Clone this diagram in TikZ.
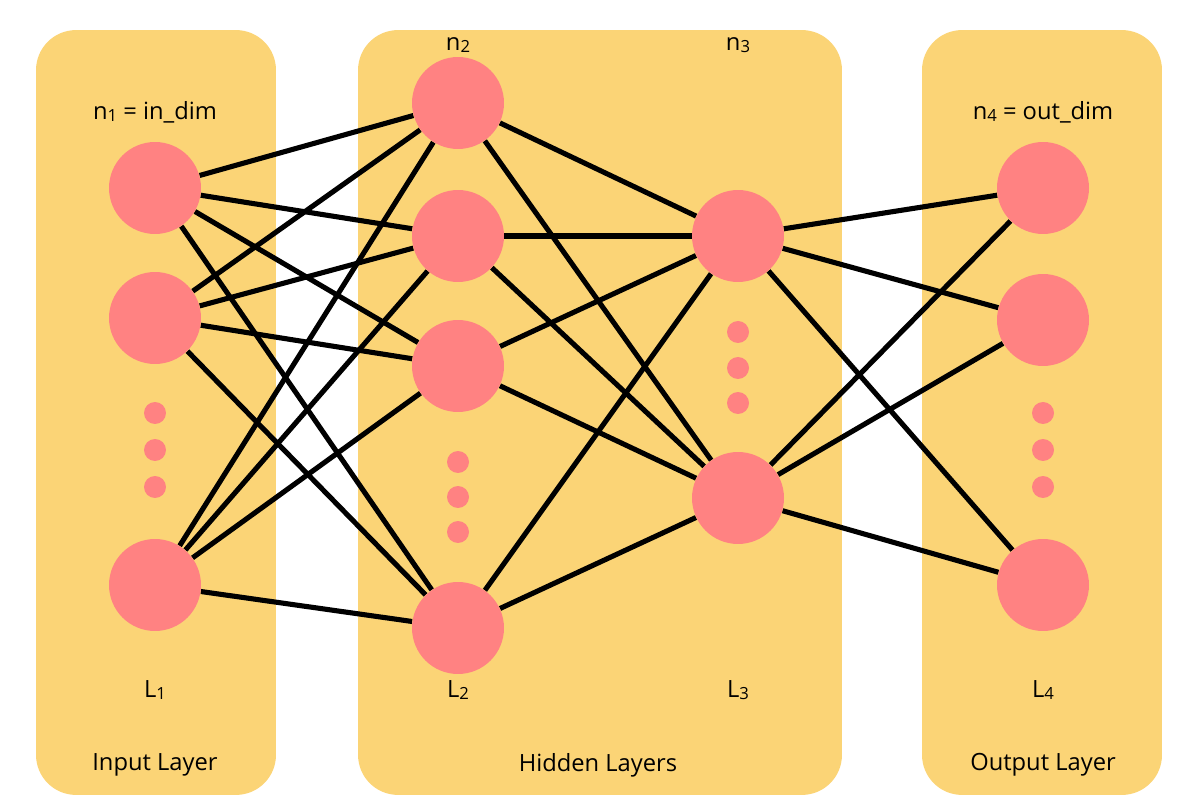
\documentclass[tikz,border=0pt]{standalone}
\usepackage{fontspec}
\setmainfont{Open Sans}
\usetikzlibrary{backgrounds}
\definecolor{panelyellow}{RGB}{251,212,118}
\definecolor{neuronred}{RGB}{255,130,130}
\pgfdeclarelayer{panel}
\pgfdeclarelayer{wires}
\pgfsetlayers{panel,wires,main}
\newcommand{\lsub}[1]{\raisebox{-0.15ex}{\fontsize{9.5}{10}\selectfont #1}}
\tikzset{%
  % Specifications for style of nodes:
        layerbox/.style = {rectangle, rounded corners=0.8cm, fill=panelyellow,
                           inner sep=0pt},
          neuron/.style = {circle, fill=neuronred, minimum size=1.84cm,
                           inner sep=0pt},
         ellipsis/.style = {circle, fill=neuronred, minimum size=0.44cm,
                           inner sep=0pt},
           label/.style = {font=\fontsize{13.5}{16}\selectfont, inner sep=0pt},
            wire/.style = {line width=2.9pt, black},
}
\begin{document}
\begin{tikzpicture}[x=0.02cm, y=-0.02cm]
  \useasboundingbox (0,0) rectangle (1200,810);
  % Layer panels
  \begin{pgfonlayer}{panel}
  \node (inpanel)	[layerbox, minimum width=4.8cm, minimum height=15.3cm] at (156,412.5) {};
  \node (hidpanel)	[layerbox, minimum width=9.68cm, minimum height=15.3cm] at (600,412.5) {};
  \node (outpanel)	[layerbox, minimum width=4.8cm, minimum height=15.3cm] at (1042,412.5) {};
  \end{pgfonlayer}

  % Specification of nodes (position, etc.)
  \node (in1)		[neuron] at (155,188) {};
  \node (in2)		[neuron] at (155,318) {};
  \node (in3)		[neuron] at (155,585) {};
  \node (hA1)		[neuron] at (458,103) {};
  \node (hA2)		[neuron] at (458,236) {};
  \node (hA3)		[neuron] at (458,366) {};
  \node (hA4)		[neuron] at (458,628) {};
  \node (hB1)		[neuron] at (738,236) {};
  \node (hB2)		[neuron] at (738,498) {};
  \node (out1)		[neuron] at (1043,188) {};
  \node (out2)		[neuron] at (1043,320) {};
  \node (out3)		[neuron] at (1043,585) {};

  \node (indot1)	[ellipsis] at (155,413) {};
  \node (indot2)	[ellipsis] at (155,450) {};
  \node (indot3)	[ellipsis] at (155,487) {};
  \node (hAdot1)	[ellipsis] at (458,462) {};
  \node (hAdot2)	[ellipsis] at (458,497) {};
  \node (hAdot3)	[ellipsis] at (458,532) {};
  \node (hBdot1)	[ellipsis] at (738,332) {};
  \node (hBdot2)	[ellipsis] at (738,368) {};
  \node (hBdot3)	[ellipsis] at (738,403) {};
  \node (outdot1)	[ellipsis] at (1043,413) {};
  \node (outdot2)	[ellipsis] at (1043,450) {};
  \node (outdot3)	[ellipsis] at (1043,487) {};

  % Texts
  \node (n1)		[label] at (155,112) {n\lsub{1} = in\_dim};
  \node (n2)		[label] at (458,45) {n\lsub{2}};
  \node (n3)		[label] at (738,45) {n\lsub{3}};
  \node (n4)		[label] at (1043,112) {n\lsub{4} = out\_dim};
  \node (L1)		[label] at (155,690) {L\lsub{1}};
  \node (L2)		[label] at (458,690) {L\lsub{2}};
  \node (L3)		[label] at (738,690) {L\lsub{3}};
  \node (L4)		[label] at (1043,690) {L\lsub{4}};
  \node (inname)	[label] at (155,765) {Input Layer};
  \node (hidname)	[label] at (598,765) {Hidden Layers};
  \node (outname)	[label] at (1043,765) {Output Layer};

  % Connections
  \begin{pgfonlayer}{wires}
  \draw[wire]		(in1) -- (hA1);
  \draw[wire]		(in1) -- (hA2);
  \draw[wire]		(in1) -- (hA3);
  \draw[wire]		(in1) -- (hA4);
  \draw[wire]		(in2) -- (hA1);
  \draw[wire]		(in2) -- (hA2);
  \draw[wire]		(in2) -- (hA3);
  \draw[wire]		(in2) -- (hA4);
  \draw[wire]		(in3) -- (hA1);
  \draw[wire]		(in3) -- (hA2);
  \draw[wire]		(in3) -- (hA3);
  \draw[wire]		(in3) -- (hA4);

  \draw[wire]		(hA1) -- (hB1);
  \draw[wire]		(hA1) -- (hB2);
  \draw[wire]		(hA2) -- (hB1);
  \draw[wire]		(hA2) -- (hB2);
  \draw[wire]		(hA3) -- (hB1);
  \draw[wire]		(hA3) -- (hB2);
  \draw[wire]		(hA4) -- (hB1);
  \draw[wire]		(hA4) -- (hB2);

  \draw[wire]		(hB1) -- (out1);
  \draw[wire]		(hB1) -- (out2);
  \draw[wire]		(hB1) -- (out3);
  \draw[wire]		(hB2) -- (out1);
  \draw[wire]		(hB2) -- (out2);
  \draw[wire]		(hB2) -- (out3);
  \end{pgfonlayer}
\end{tikzpicture}
\end{document}
